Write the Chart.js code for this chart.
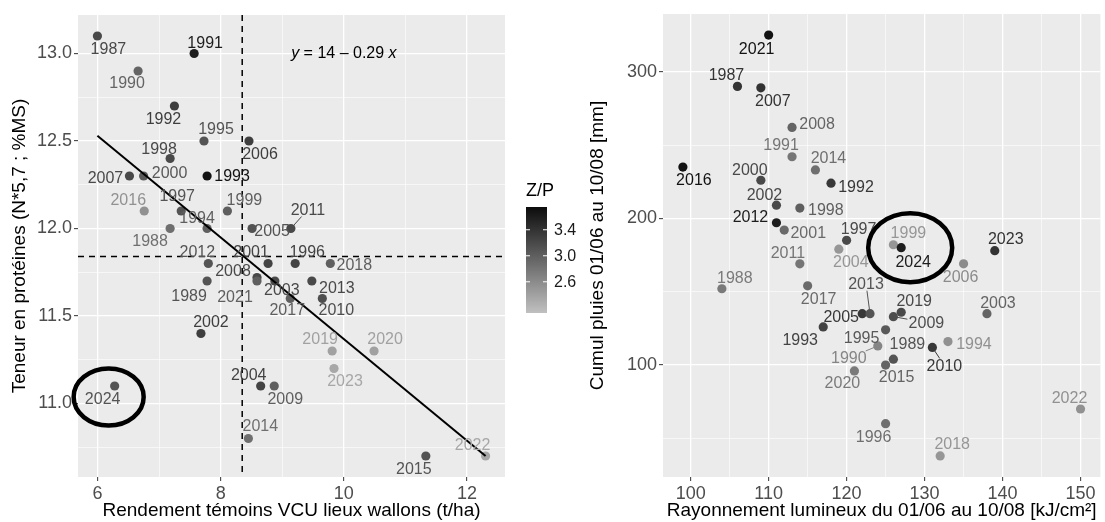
<!DOCTYPE html>
<html>
<head>
<meta charset="utf-8">
<script src="https://cdn.jsdelivr.net/npm/chart.js@4.4.1/dist/chart.umd.min.js"></script>
<style>
  body { margin: 0; background: #fff; }
  #wrap { position: relative; width: 1105px; height: 522px; }
  .box { position: absolute; top: 0; height: 522px; }
  #left { left: 0; width: 585px; }
  #right { left: 585px; width: 520px; }
</style>
</head>
<body>
<div id="wrap">
  <div class="box" id="left"><canvas id="protein" width="585" height="522"></canvas></div>
  <div class="box" id="right"><canvas id="climate" width="520" height="522"></canvas></div>
</div>
<script>
// one entry per harvest year
const years = [1987, 1988, 1989, 1990, 1991, 1992, 1993, 1994, 1995, 1996,
  1997, 1998, 1999, 2000, 2001, 2002, 2003, 2004, 2005, 2006,
  2007, 2008, 2009, 2010, 2011, 2012, 2013, 2014, 2015, 2016,
  2017, 2018, 2019, 2020, 2021, 2022, 2023, 2024];

// left panel: yield of control plots (t/ha) vs protein content
const yieldT = [6.00, 7.18, 7.78, 6.66, 7.57, 7.25, 7.78, 7.78, 7.73, 9.21,
  7.36, 7.18, 8.11, 6.75, 8.77, 7.68, 8.88, 8.65, 8.51, 8.46,
  6.52, 8.59, 8.87, 9.65, 9.14, 7.80, 9.48, 8.45, 11.33, 6.76,
  9.13, 9.78, 9.81, 10.49, 8.59, 12.30, 9.84, 6.28];
const protein = [13.1, 12.0, 11.7, 12.9, 13.0, 12.7, 12.3, 12.0, 12.5, 11.8,
  12.1, 12.4, 12.1, 12.3, 11.8, 11.4, 11.7, 11.1, 12.0, 12.5,
  12.3, 11.72, 11.1, 11.6, 12.0, 11.8, 11.7, 10.8, 10.7, 12.1,
  11.6, 11.8, 11.3, 11.3, 11.7, 10.7, 11.2, 11.1];
const zp = [3.2, 2.85, 3.1, 2.95, 3.6, 3.3, 3.7, 3.0, 3.1, 3.25,
  3.1, 3.2, 3.0, 3.05, 3.25, 3.3, 3.2, 3.25, 3.1, 3.3,
  3.2, 3.2, 3.0, 3.15, 3.2, 3.1, 3.2, 2.85, 3.1, 2.55,
  3.0, 3.0, 2.4, 2.4, 3.0, 2.35, 2.35, 3.1];

// right panel: radiation 01/06-10/08 (kJ/cm²) vs rainfall (mm)
const radiation = [106, 104, 126, 124, 113, 118, 117, 133, 125, 125,
  120, 114, 126, 109, 112, 111, 138, 119, 122, 135,
  109, 113, 126, 131, 114, 111, 123, 116, 125, 99,
  115, 132, 127, 121, 110, 150, 139, 127];
const rainfall = [290, 152, 104, 113, 242, 224, 126, 116, 124, 60,
  185, 207, 182, 226, 192, 209, 135, 179, 135, 169,
  289, 262, 133, 112, 169, 197, 135, 233, 100, 235,
  154, 38, 136, 96, 325, 70, 178, 180];
const shadeR = [3.4, 2.75, 3.1, 2.65, 2.8, 3.35, 3.25, 2.55, 3.05, 2.85,
  3.2, 3.0, 2.5, 3.2, 2.9, 3.2, 2.95, 2.5, 3.35, 2.6,
  3.4, 2.95, 3.15, 3.35, 2.8, 3.6, 3.1, 2.85, 2.95, 3.7,
  2.9, 2.5, 3.2, 2.75, 3.7, 2.55, 3.4, 3.6];

// regression line ends and mean reference lines
const fitX = [6.0, 12.3];
const fitY = [12.53, 10.70];
const meanYield = 8.35;
const meanProtein = 11.84;

// tick values
const xMajorL = [6, 8, 10, 12], xMinorL = [7, 9, 11];
const yMajorL = [11.0, 11.5, 12.0, 12.5, 13.0], yMinorL = [10.75, 11.25, 11.75, 12.25, 12.75];
const xMajorR = [100, 110, 120, 130, 140, 150], xMinorR = [105, 115, 125, 135, 145];
const yMajorR = [100, 200, 300], yMinorR = [50, 150, 250];
const zpTicks = [2.6, 3.0, 3.4];
const zpRange = [2.12, 3.75];

// label placement (pixel offset from the point), repel style
const offL = {
  1987: [11, 13], 1988: [-20, 12], 1989: [-18, 15], 1990: [-11, 12], 1991: [11, -11],
  1992: [-11, 13], 1993: [25, 0], 1994: [-10, -11], 1995: [12, -12], 1996: [12, -12],
  1997: [-4, -15], 1998: [-11, -10], 1999: [17, -11], 2000: [26, -3], 2001: [-17, -12],
  2002: [10, -12], 2003: [7, 9], 2004: [-12, -11], 2005: [20, 2], 2006: [11, 13],
  2007: [-24, 2], 2008: [-24, -7], 2009: [11, 13], 2010: [14, 11], 2011: [17, -19],
  2012: [-11, -12], 2013: [25, 7], 2014: [12, -13], 2015: [-12, 13], 2016: [-16, -11],
  2017: [-3, 11], 2018: [24, 1], 2019: [-12, -12], 2020: [11, -12], 2021: [-22, 16],
  2022: [-13, -11], 2023: [11, 12], 2024: [-12, 13]
};
const offR = {
  1987: [-11, -12], 1988: [13, -11], 1989: [14, -16], 1990: [-29, 12], 1991: [-11, -12],
  1992: [25, 3], 1993: [-23, 13], 1994: [26, 2], 1995: [-24, 8], 1996: [-12, 13],
  1997: [12, -12], 1998: [26, 1], 1999: [15, -12], 2000: [-11, -11], 2001: [24, 2],
  2002: [-12, -11], 2003: [11, -11], 2004: [12, 12], 2005: [-21, 3], 2006: [-3, 13],
  2007: [12, 13], 2008: [25, -4], 2009: [33, 6], 2010: [12, 18], 2011: [-12, -11],
  2012: [-26, -6], 2013: [-4, -30], 2014: [13, -12], 2015: [11, 12], 2016: [11, 13],
  2017: [11, 13], 2018: [12, -12], 2019: [13, -12], 2020: [-12, 12], 2021: [-12, 14],
  2022: [-11, -11], 2023: [11, -12], 2024: [12, 14]
};
const segL = [2011];
const segR = [2013, 2009, 1990, 2010];

const FONT = '"Liberation Sans", Arial, sans-serif';
Chart.defaults.font.family = FONT;

// grey ramp used for Z/P (light = low, black = high)
function shade(v) {
  let t = (v - zpRange[0]) / (zpRange[1] - zpRange[0]);
  t = Math.max(0, Math.min(1, t));
  const g = Math.round(192 - t * 180);
  return 'rgb(' + g + ',' + g + ',' + g + ')';
}

function scaleOpts(min, max, major, minor, title, fmt, size, titlePad) {
  return {
    type: 'linear',
    min: min,
    max: max,
    afterBuildTicks: s => {
      s.ticks = major.concat(minor).sort((a, b) => a - b).map(v => ({ value: v }));
    },
    afterFit: s => {
      if (s.isHorizontal()) s.height = size; else s.width = size;
    },
    ticks: {
      autoSkip: false,
      maxRotation: 0,
      padding: 2,
      color: '#4d4d4d',
      font: { size: 18 },
      callback: v => major.includes(v) ? fmt(v) : ''
    },
    grid: {
      color: '#ffffff',
      lineWidth: c => major.includes(c.tick.value) ? 1.3 : 0.6,
      tickColor: c => major.includes(c.tick.value) ? '#333333' : 'rgba(0,0,0,0)',
      tickLength: 4,
      tickWidth: 1
    },
    border: { display: false },
    title: { display: true, text: title, color: '#000', font: { size: 19 }, padding: { top: titlePad, bottom: 0 } }
  };
}

const panelBg = {
  id: 'panelBg',
  beforeDraw(chart) {
    const a = chart.chartArea, ctx = chart.ctx;
    ctx.save();
    ctx.fillStyle = '#ebebeb';
    ctx.fillRect(a.left, a.top, a.right - a.left, a.bottom - a.top);
    ctx.restore();
  }
};

function yearLabels(xs, ys, colours, off, seg) {
  return {
    id: 'yearLabels',
    afterDatasetsDraw(chart) {
      const ctx = chart.ctx, sx = chart.scales.x, sy = chart.scales.y;
      ctx.save();
      ctx.font = '16px ' + FONT;
      ctx.textAlign = 'center';
      ctx.textBaseline = 'middle';
      years.forEach((yr, i) => {
        const px = sx.getPixelForValue(xs[i]), py = sy.getPixelForValue(ys[i]);
        const cx = px + off[yr][0], cy = py + off[yr][1];
        ctx.fillStyle = colours[i];
        ctx.strokeStyle = colours[i];
        if (seg.includes(yr)) {
          const dx = px - cx, dy = py - cy;
          const t = Math.min(19 / Math.abs(dx || 1e-6), 7 / Math.abs(dy || 1e-6));
          ctx.lineWidth = 1;
          ctx.beginPath();
          ctx.moveTo(px, py);
          ctx.lineTo(cx + dx * t, cy + dy * t);
          ctx.stroke();
        }
        ctx.fillText(String(yr), cx, cy + 1);
      });
      ctx.restore();
    }
  };
}

function ring(idx, dx, dy, rx, ry) {
  return {
    id: 'ring',
    afterDraw(chart) {
      const ctx = chart.ctx;
      const ds = chart.data.datasets.find(d => d.label === 'years');
      const p = ds.data[idx];
      const px = chart.scales.x.getPixelForValue(p.x) + dx;
      const py = chart.scales.y.getPixelForValue(p.y) + dy;
      ctx.save();
      ctx.lineWidth = 4.5;
      ctx.strokeStyle = '#000';
      ctx.beginPath();
      ctx.ellipse(px, py, rx, ry, 0, 0, Math.PI * 2);
      ctx.stroke();
      ctx.restore();
    }
  };
}

// dashed mean lines across the whole panel
const meanLines = {
  id: 'meanLines',
  beforeDatasetsDraw(chart) {
    const a = chart.chartArea, ctx = chart.ctx;
    const vx = chart.scales.x.getPixelForValue(meanYield);
    const hy = chart.scales.y.getPixelForValue(meanProtein);
    ctx.save();
    ctx.strokeStyle = '#000';
    ctx.lineWidth = 1.5;
    ctx.setLineDash([6, 5]);
    ctx.beginPath();
    ctx.moveTo(vx, a.top); ctx.lineTo(vx, a.bottom);
    ctx.moveTo(a.left, hy); ctx.lineTo(a.right, hy);
    ctx.stroke();
    ctx.restore();
  }
};

// regression equation and Z/P colour bar
const extras = {
  id: 'extras',
  afterDraw(chart) {
    const ctx = chart.ctx;
    const ex = chart.scales.x.getPixelForValue(10), ey = chart.scales.y.getPixelForValue(13.0);
    const parts = [['italic', 'y'], ['normal', ' = 14 \u2013 0.29 '], ['italic', 'x']];
    ctx.save();
    ctx.fillStyle = '#000';
    ctx.textBaseline = 'middle';
    ctx.textAlign = 'left';
    let w = 0;
    parts.forEach(p => { ctx.font = p[0] + ' 16px ' + FONT; w += ctx.measureText(p[1]).width; });
    let x = ex - w / 2;
    parts.forEach(p => {
      ctx.font = p[0] + ' 16px ' + FONT;
      ctx.fillText(p[1], x, ey);
      x += ctx.measureText(p[1]).width;
    });

    const bx = 526, bw = 21, top = 207, bot = 313;
    const grad = ctx.createLinearGradient(0, top, 0, bot);
    grad.addColorStop(0, shade(zpRange[1]));
    grad.addColorStop(1, shade(zpRange[0]));
    ctx.fillStyle = grad;
    ctx.fillRect(bx, top, bw, bot - top);
    ctx.font = '18px ' + FONT;
    ctx.fillStyle = '#000';
    ctx.textBaseline = 'alphabetic';
    ctx.fillText('Z/P', bx, 196);
    ctx.font = '16px ' + FONT;
    ctx.fillStyle = '#1a1a1a';
    ctx.textBaseline = 'middle';
    zpTicks.forEach(v => {
      const ty = bot - (v - zpRange[0]) / (zpRange[1] - zpRange[0]) * (bot - top);
      ctx.strokeStyle = '#fff';
      ctx.lineWidth = 1;
      ctx.beginPath();
      ctx.moveTo(bx, ty); ctx.lineTo(bx + 4, ty);
      ctx.moveTo(bx + bw - 4, ty); ctx.lineTo(bx + bw, ty);
      ctx.stroke();
      ctx.fillText(v.toFixed(1), bx + bw + 7, ty + 1);
    });
    ctx.restore();
  }
};

const coloursL = zp.map(shade);
const coloursR = shadeR.map(shade);

new Chart(document.getElementById('protein'), {
  type: 'scatter',
  data: {
    datasets: [
      {
        label: 'fit',
        data: fitX.map((x, i) => ({ x: x, y: fitY[i] })),
        showLine: true,
        borderColor: '#000',
        borderWidth: 2,
        pointRadius: 0,
        order: 0
      },
      {
        label: 'years',
        data: years.map((y, i) => ({ x: yieldT[i], y: protein[i] })),
        pointRadius: 4.6,
        pointBackgroundColor: coloursL,
        pointBorderWidth: 0,
        borderWidth: 0,
        order: 1
      }
    ]
  },
  options: {
    responsive: false,
    devicePixelRatio: 1,
    animation: false,
    layout: { padding: { top: 15, right: 80, left: 0, bottom: 0 } },
    plugins: { legend: { display: false }, tooltip: { enabled: false } },
    scales: {
      x: scaleOpts(5.685, 12.615, xMajorL, xMinorL, 'Rendement t\u00e9moins VCU lieux wallons (t/ha)', v => String(v), 45, 0),
      y: scaleOpts(10.58, 13.22, yMajorL, yMinorL, 'Teneur en prot\u00e9ines (N*5,7 ; %MS)', v => v.toFixed(1), 78, 8)
    }
  },
  plugins: [panelBg, meanLines, yearLabels(yieldT, protein, coloursL, offL, segL), ring(37, -6, 11, 35, 28.5), extras]
});

new Chart(document.getElementById('climate'), {
  type: 'scatter',
  data: {
    datasets: [
      {
        label: 'years',
        data: years.map((y, i) => ({ x: radiation[i], y: rainfall[i] })),
        pointRadius: 4.6,
        pointBackgroundColor: coloursR,
        pointBorderWidth: 0,
        borderWidth: 0
      }
    ]
  },
  options: {
    responsive: false,
    devicePixelRatio: 1,
    animation: false,
    layout: { padding: { top: 14, right: 2, left: 0, bottom: 0 } },
    plugins: { legend: { display: false }, tooltip: { enabled: false } },
    scales: {
      x: scaleOpts(96.45, 152.55, xMajorR, xMinorR, 'Rayonnement lumineux du 01/06 au 10/08 [kJ/cm\u00b2]', v => String(v), 45, 0),
      y: scaleOpts(23.65, 339.35, yMajorR, yMinorR, 'Cumul pluies 01/06 au 10/08 [mm]', v => String(v), 78, 1)
    }
  },
  plugins: [panelBg, yearLabels(radiation, rainfall, coloursR, offR, segR), ring(37, 9, 0, 42, 34.5)]
});
</script>
</body>
</html>
